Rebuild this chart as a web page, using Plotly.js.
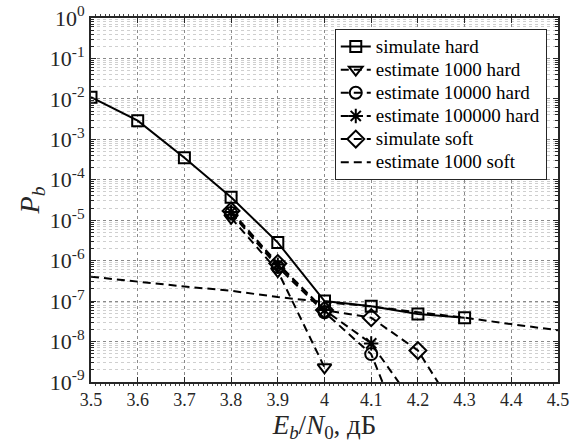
<!DOCTYPE html>
<html>
<head>
<meta charset="utf-8">
<script src="https://cdn.plot.ly/plotly-3.0.1.min.js"></script>
<style>html,body{margin:0;padding:0;background:#fff;}#chart{width:577px;height:446px;}</style>
</head>
<body>
<div id="chart"></div>
<script>
// Eb/N0 (dB) values
const xSimHard = [3.5, 3.6, 3.7, 3.8, 3.9, 4.0, 4.1, 4.2, 4.3];
const ySimHard = [1.1e-2, 2.9e-3, 3.5e-4, 3.7e-5, 2.8e-6, 1.0e-7, 7.5e-8, 4.8e-8, 3.9e-8];

const xEst1000Hard = [3.8, 3.9, 4.0];
const yEst1000Hard = [1.15e-5, 5.5e-7, 2.3e-9];

const xEst10000Hard = [3.8, 3.9, 4.0, 4.1, 4.2];
const yEst10000Hard = [1.5e-5, 7.0e-7, 5.3e-8, 4.9e-9, 6.6e-12];

const xEst100000Hard = [3.8, 3.9, 4.0, 4.1, 4.2];
const yEst100000Hard = [1.6e-5, 8.0e-7, 6.0e-8, 9.0e-9, 2.1e-10];

const xSimSoft = [3.8, 3.9, 4.0, 4.1, 4.2, 4.3];
const ySimSoft = [1.7e-5, 8.5e-7, 6.0e-8, 3.9e-8, 6.0e-9, 8.9e-11];

const xEst1000Soft = [3.5, 3.6, 3.7, 3.8, 3.9, 4.0, 4.1, 4.2, 4.3, 4.4, 4.5];
const yEst1000Soft = [4.0e-7, 3.0e-7, 2.3e-7, 1.8e-7, 1.26e-7, 9.5e-8, 7.4e-8, 5.3e-8, 3.9e-8, 2.7e-8, 1.9e-8];

const seriesNames = ['simulate hard', 'estimate 1000 hard', 'estimate 10000 hard',
  'estimate 100000 hard', 'simulate soft', 'estimate 1000 soft'];

const xTickVals = [3.5, 3.6, 3.7, 3.8, 3.9, 4.0, 4.1, 4.2, 4.3, 4.4, 4.5];
const xTickText = ['3.5', '3.6', '3.7', '3.8', '3.9', '4', '4.1', '4.2', '4.3', '4.4', '4.5'];

const yTickVals = [1, 1e-1, 1e-2, 1e-3, 1e-4, 1e-5, 1e-6, 1e-7, 1e-8, 1e-9];
const yTickText = ['10<sup>0</sup>', '10<sup>-1</sup>', '10<sup>-2</sup>', '10<sup>-3</sup>',
  '10<sup>-4</sup>', '10<sup>-5</sup>', '10<sup>-6</sup>', '10<sup>-7</sup>',
  '10<sup>-8</sup>', '10<sup>-9</sup>'];

const DASH = '8px,5px';
const BLACK = '#000';

function tr(x, y, name, dash, symbol, msize) {
  const t = {
    x: x, y: y, type: 'scatter',
    name: '<span style="font-size:19px">' + name + '</span>',
    mode: symbol ? 'lines+markers' : 'lines',
    line: {color: BLACK, width: 2, dash: dash}
  };
  if (symbol) {
    t.marker = {symbol: symbol, size: msize, color: BLACK,
      line: {color: BLACK, width: 2}};
  }
  return t;
}

const data = [
  tr(xSimHard, ySimHard, seriesNames[0], 'solid', 'square-open', 11),
  tr(xEst1000Hard, yEst1000Hard, seriesNames[1], DASH, 'triangle-down-open', 12),
  tr(xEst10000Hard, yEst10000Hard, seriesNames[2], DASH, 'circle-open', 12),
  tr(xEst100000Hard, yEst100000Hard, seriesNames[3], DASH, 'asterisk-open', 12),
  tr(xSimSoft, ySimSoft, seriesNames[4], DASH, 'diamond-open', 13),
  tr(xEst1000Soft, yEst1000Soft, seriesNames[5], DASH, null, 0)
];

const FONT = 'Liberation Serif';

const layout = {
  width: 577, height: 446,
  margin: {l: 91, r: 19, t: 18, b: 64, pad: 0},
  paper_bgcolor: '#fff', plot_bgcolor: '#fff',
  font: {family: FONT, size: 18, color: '#262626'},
  showlegend: true,
  legend: {
    x: 0.522, y: 0.970, xanchor: 'left', yanchor: 'top',
    bgcolor: '#fff', bordercolor: '#262626', borderwidth: 1,
    font: {family: FONT, size: 15.5, color: '#000'},
    tracegroupgap: 0, itemwidth: 30
  },
  xaxis: {
    range: [3.5, 4.5],
    tickmode: 'array', tickvals: xTickVals, ticktext: xTickText,
    tickfont: {family: FONT, size: 18, color: '#262626'},
    ticks: 'inside', ticklen: 5, tickwidth: 1, tickcolor: '#262626',
    showline: true, linecolor: '#262626', linewidth: 2, mirror: 'allticks',
    showgrid: true, gridcolor: '#8a8a8a', griddash: 'dot', gridwidth: 1,
    zeroline: false,
    minor: {dtick: 0.01, ticks: 'outside', ticklen: 2, tickcolor: '#444', showgrid: false},
    title: {text: '<i>E</i><sub><i>b</i></sub>/<i>N</i><sub>0</sub>, дБ',
      font: {family: FONT, size: 27, color: '#262626'}, standoff: 5}
  },
  yaxis: {
    type: 'log', range: [-9, 0],
    tickmode: 'array', tickvals: yTickVals, ticktext: yTickText,
    tickfont: {family: FONT, size: 22, color: '#262626'},
    ticks: 'inside', ticklen: 5, tickwidth: 1, tickcolor: '#262626',
    showline: true, linecolor: '#262626', linewidth: 2, mirror: 'allticks',
    showgrid: true, gridcolor: '#8a8a8a', griddash: 'dot', gridwidth: 1,
    zeroline: false,
    minor: {dtick: 'D1', ticks: 'inside', ticklen: 3, tickcolor: '#262626',
      showgrid: true, gridcolor: '#cfcfcf', griddash: 'dot', gridwidth: 1},
    title: {text: '<i>P</i><sub><i>b</i></sub>',
      font: {family: FONT, size: 28, color: '#262626'}, standoff: 2}
  }
};

Plotly.newPlot('chart', data, layout, {staticPlot: true, displayModeBar: false});
</script>
</body>
</html>
